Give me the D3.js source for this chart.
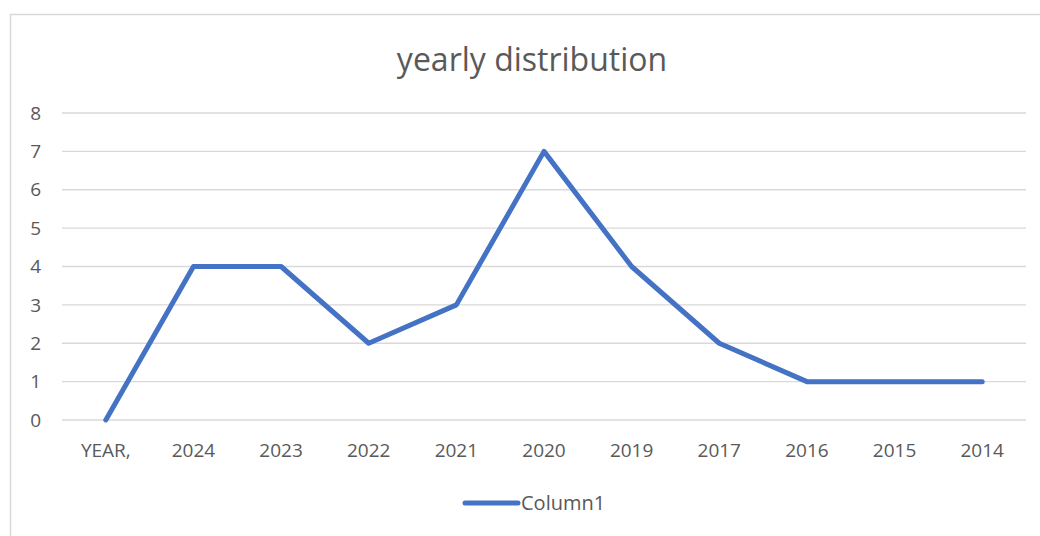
<!DOCTYPE html>
<html>
<head>
<meta charset="utf-8">
<script src="https://cdn.jsdelivr.net/npm/d3@7"></script>
<style>
  body { margin: 0; background: #fff; }
  text { font-family: "Open Sans", sans-serif; fill: #595959; }
</style>
</head>
<body>
<svg id="chart"></svg>
<script>
const categories = ['YEAR,', '2024', '2023', '2022', '2021', '2020', '2019', '2017', '2016', '2015', '2014']
const values = [0, 4, 4, 2, 3, 7, 4, 2, 1, 1, 1]
const yTicks = [0, 1, 2, 3, 4, 5, 6, 7, 8]
const seriesName = 'Column1'
const title = 'yearly distribution'

const width = 1040
const height = 536
const margin = { top: 113, right: 14, bottom: 116, left: 62 }

const svg = d3.select('#chart')
    .attr('width', width)
    .attr('height', height)

// chart frame
svg.append('rect')
    .attr('x', 10.5).attr('y', 14.5)
    .attr('width', 1100).attr('height', 600)
    .attr('fill', 'none')
    .attr('stroke', '#d9d9d9')
    .attr('stroke-width', 1.5)

var x = d3.scaleBand()
    .domain(categories)
    .range([margin.left, width - margin.right])

var y = d3.scaleLinear()
    .domain([0, 8])
    .range([height - margin.bottom, margin.top])

//Gridlines
svg.append('g')
    .selectAll('line')
    .data(yTicks)
    .join('line')
    .attr('x1', margin.left)
    .attr('x2', width - margin.right)
    .attr('y1', d => y(d))
    .attr('y2', d => y(d))
    .attr('stroke', '#d9d9d9')
    .attr('stroke-width', 1.3)

//Y labels
svg.append('g')
    .selectAll('text')
    .data(yTicks)
    .join('text')
    .text(d => d)
    .attr('x', 41)
    .attr('y', d => y(d))
    .attr('dy', '0.35em')
    .attr('text-anchor', 'end')
    .style('font-size', '19px')

//X labels
svg.append('g')
    .selectAll('text')
    .data(categories)
    .join('text')
    .text(d => d)
    .attr('x', d => x(d) + x.bandwidth() / 2)
    .attr('y', y(0) + 37)
    .attr('text-anchor', 'middle')
    .style('font-size', '19px')

//Line
const line = d3.line()
    .x((d, i) => x(categories[i]) + x.bandwidth() / 2)
    .y(d => y(d))

svg.append('path')
    .datum(values)
    .attr('d', line)
    .attr('fill', 'none')
    .attr('stroke', '#4472c4')
    .attr('stroke-width', 5)
    .attr('stroke-linejoin', 'round')
    .attr('stroke-linecap', 'round')

//Title
svg.append('text')
    .text(title)
    .attr('x', 532)
    .attr('y', 71)
    .attr('text-anchor', 'middle')
    .style('font-size', '32px')

//Legend
svg.append('line')
    .attr('x1', 465).attr('x2', 518)
    .attr('y1', 503).attr('y2', 503)
    .attr('stroke', '#4472c4')
    .attr('stroke-width', 5)
    .attr('stroke-linecap', 'round')

svg.append('text')
    .text(seriesName)
    .attr('x', 521)
    .attr('y', 503)
    .attr('dy', '0.35em')
    .style('font-size', '20px')
</script>
</body>
</html>
